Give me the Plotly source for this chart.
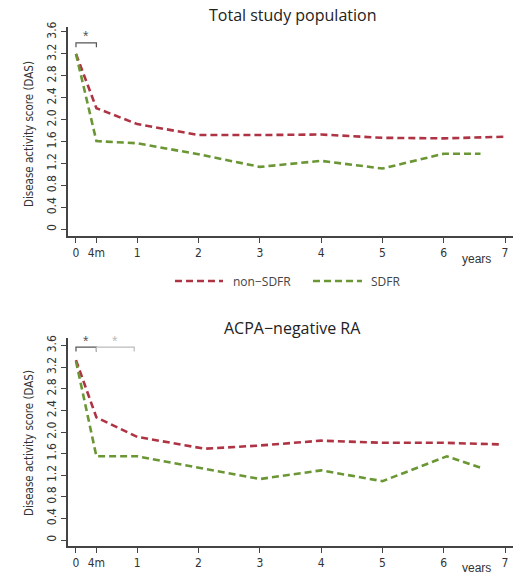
import plotly.graph_objects as go

# ---- data ----
time_years = [0, 1/3, 1, 2, 3, 4, 5, 6, 7]
x_tick_vals = [0, 1/3, 1, 2, 3, 4, 5, 6, 7]
x_tick_text = ["0", "4m", "1", "2", "3", "4", "5", "6", "7"]
y_tick_vals = [0, 0.4, 0.8, 1.2, 1.6, 2.0, 2.4, 2.8, 3.2, 3.6]
y_tick_text = ["0", "0.4", "0.8", "1.2", "1.6", "2.0", "2.4", "2.8", "3.2", "3.6"]

total_non_sdfr = [3.20, 2.21, 1.92, 1.72, 1.72, 1.73, 1.67, 1.66, 1.69]
total_sdfr_x = [0, 1/3, 1, 2, 3, 4, 5, 6, 6.6]
total_sdfr = [3.20, 1.61, 1.57, 1.37, 1.14, 1.25, 1.11, 1.38, 1.38]

acpa_non_x = [0, 1/3, 1, 2.1, 3, 4, 5, 6, 6.95]
acpa_non_sdfr = [3.33, 2.27, 1.91, 1.69, 1.75, 1.84, 1.80, 1.80, 1.77]
acpa_sdfr_x = [0, 1/3, 1, 2, 3, 4, 5, 6.05, 6.65]
acpa_sdfr = [3.31, 1.55, 1.55, 1.34, 1.13, 1.29, 1.09, 1.55, 1.32]

titles = ["Total study population", "ACPA\u2212negative RA"]
series_names = ["non\u2212SDFR", "SDFR"]

RED = "#AE3444"
GREEN = "#6A9634"
AXC = "#444444"
DASH = "7px,4px"
W, H = 522, 572

fig = go.Figure()

def px2paper_y(py):
    return 1 - py / H

# panel geometry (pixels)
panels = [
    dict(x0=68, x1=513, y0=27, y1=236, yr=[-0.12, 3.69]),
    dict(x0=68, x1=513, y0=338, y1=546, yr=[-0.11, 3.74]),
]

data_sets = [
    ((time_years, total_non_sdfr), (total_sdfr_x, total_sdfr)),
    ((acpa_non_x, acpa_non_sdfr), (acpa_sdfr_x, acpa_sdfr)),
]

for i, (p, ds) in enumerate(zip(panels, data_sets)):
    xa = "x" if i == 0 else "x2"
    ya = "y" if i == 0 else "y2"
    (nx, ny), (sx, sy) = ds
    fig.add_trace(go.Scatter(x=nx, y=ny, mode="lines", name=series_names[0],
                             line=dict(color=RED, width=2.6, dash=DASH),
                             xaxis=xa, yaxis=ya, showlegend=False))
    fig.add_trace(go.Scatter(x=sx, y=sy, mode="lines", name=series_names[1],
                             line=dict(color=GREEN, width=2.6, dash=DASH),
                             xaxis=xa, yaxis=ya, showlegend=False))

axis_common = dict(showline=True, linecolor=AXC, linewidth=1.5, ticks="outside",
                   ticklen=5, tickcolor=AXC, tickwidth=1.2, showgrid=False,
                   zeroline=False, automargin=False,
                   tickfont=dict(family="Liberation Sans Narrow, DejaVu Sans Condensed, Arial", size=12, color="#333"))

layout = dict(width=W, height=H, margin=dict(l=0, r=0, t=0, b=0, autoexpand=False),
              paper_bgcolor="white", plot_bgcolor="white", showlegend=False)

for i, p in enumerate(panels):
    sfx = "" if i == 0 else "2"
    layout["xaxis" + sfx] = dict(axis_common, domain=[p["x0"] / W, p["x1"] / W],
                                 range=[-0.13, 7.13], tickvals=x_tick_vals,
                                 ticktext=x_tick_text, tickangle=0,
                                 anchor="y" + sfx)
    layout["yaxis" + sfx] = dict(axis_common, domain=[px2paper_y(p["y1"]), px2paper_y(p["y0"])],
                                 range=p["yr"], tickvals=y_tick_vals, ticktext=y_tick_text,
                                 tickangle=-90, anchor="x" + sfx)

fig.update_layout(**layout)

annotations = []
shapes = []
title_font = dict(family="Open Sans, Arial", size=16, color="#222")
ytitle_font = dict(family="Liberation Sans Narrow, DejaVu Sans Condensed, Arial", size=11.5, color="#333")
title_y = [15, 328]
years_y = [259, 568]
ytitle_center = [134, 443]
for i, p in enumerate(panels):
    annotations.append(dict(text=titles[i], x=292 / W, y=px2paper_y(title_y[i]),
                            xref="paper", yref="paper", showarrow=False,
                            xanchor="center", yanchor="middle", font=title_font))
    annotations.append(dict(text="Disease activity score (DAS)", x=29 / W,
                            y=px2paper_y(ytitle_center[i]),
                            xref="paper", yref="paper", showarrow=False, textangle=-90,
                            xanchor="center", yanchor="middle", font=ytitle_font))
    annotations.append(dict(text="years", x=476 / W, y=px2paper_y(years_y[i]),
                            xref="paper", yref="paper", showarrow=False,
                            xanchor="center", yanchor="middle",
                            font=dict(family="Liberation Sans Narrow, Arial", size=12, color="#333")))

# legend (drawn as shapes + text)
legend_items = [(series_names[0], RED, 175, 223, 231), (series_names[1], GREEN, 313, 362, 369)]
ly = px2paper_y(281)
for name, col, sx0, sx1, tx in legend_items:
    shapes.append(dict(type="line", xref="paper", yref="paper", x0=sx0 / W, x1=sx1 / W,
                       y0=ly, y1=ly, line=dict(color=col, width=2.6, dash=DASH)))
    annotations.append(dict(text=name, x=tx / W, y=ly, xref="paper", yref="paper",
                            showarrow=False, xanchor="left", yanchor="middle",
                            font=dict(family="Open Sans, Arial", size=12, color="#444")))

# significance brackets
def bracket(xa, ya, x0, x1, ytop, ybot, color, star_y):
    shapes.append(dict(type="path", xref=xa, yref=ya,
                       path=f"M {x0} {ybot} L {x0} {ytop} L {x1} {ytop} L {x1} {ybot}",
                       line=dict(color=color, width=1.2)))
    annotations.append(dict(text="*", x=(x0 + x1) / 2, y=star_y, xref=xa, yref=ya,
                            showarrow=False, xanchor="center", yanchor="middle",
                            font=dict(size=14, color=color, family="Arial")))

bracket("x", "y", 0, 1/3, 3.40, 3.32, "#555", 3.53)
bracket("x2", "y2", 0, 1/3, 3.57, 3.49, "#555", 3.68)
bracket("x2", "y2", 1/3, 0.95, 3.57, 3.49, "#BBBBBB", 3.68)

fig.update_layout(annotations=annotations, shapes=shapes)
fig.write_html("out.html", config={"displayModeBar": False},
               post_script="document.body.style.margin='0px';document.body.style.overflow='hidden';")
